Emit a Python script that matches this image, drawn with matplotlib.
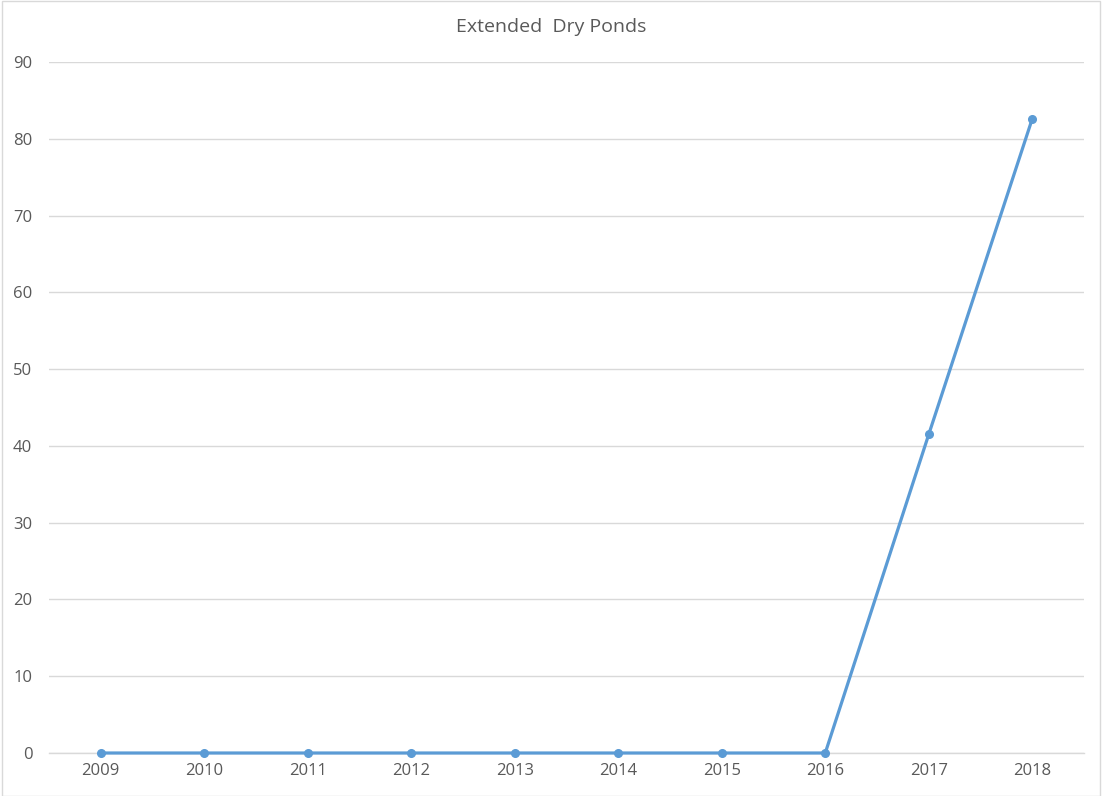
import matplotlib
matplotlib.use("Agg")
import matplotlib.pyplot as plt
from matplotlib.patches import Rectangle

years = ["2009", "2010", "2011", "2012", "2013", "2014", "2015", "2016", "2017", "2018"]
values = [0, 0, 0, 0, 0, 0, 0, 0, 41.5, 82.6]
title = "Extended  Dry Ponds"

plt.rcParams['font.family'] = ['Open Sans', 'DejaVu Sans']
W, H = 1102, 796
fig = plt.figure(figsize=(W / 100, H / 100), dpi=100)
ax = fig.add_axes([49 / W, 1 - 753 / H, (1084 - 49) / W, (753 - 62) / H])

x = list(range(len(years)))
ax.plot(x, values, color="#5B9BD5", linewidth=2.3, marker="o", markersize=5.5,
        clip_on=False, zorder=3)

ax.set_xlim(-0.5, len(years) - 0.5)
ax.set_ylim(0, 90)
ax.set_yticks(range(0, 91, 10))
ax.set_xticks(x)
ax.set_xticklabels(years)
ax.grid(axis="y", color="#D9D9D9", linewidth=1)
ax.set_axisbelow(True)
for s in ["top", "right", "left"]:
    ax.spines[s].set_visible(False)
ax.spines["bottom"].set_color("#D9D9D9")
ax.spines["bottom"].set_linewidth(1)
ax.tick_params(axis="both", length=0, colors="#595959", labelsize=12)
ax.tick_params(axis="y", pad=12)
ax.tick_params(axis="x", pad=7)

fig.text(0.5, 1 - 27 / H, title, ha="center", va="center", fontsize=14, color="#595959")

fig.patches.append(Rectangle((1.5 / W, 0), (W - 4) / W, 1 - 0.5 / H, transform=fig.transFigure,
                             fill=False, edgecolor="#D9D9D9", linewidth=1))

fig.savefig("out.png", dpi=100)
